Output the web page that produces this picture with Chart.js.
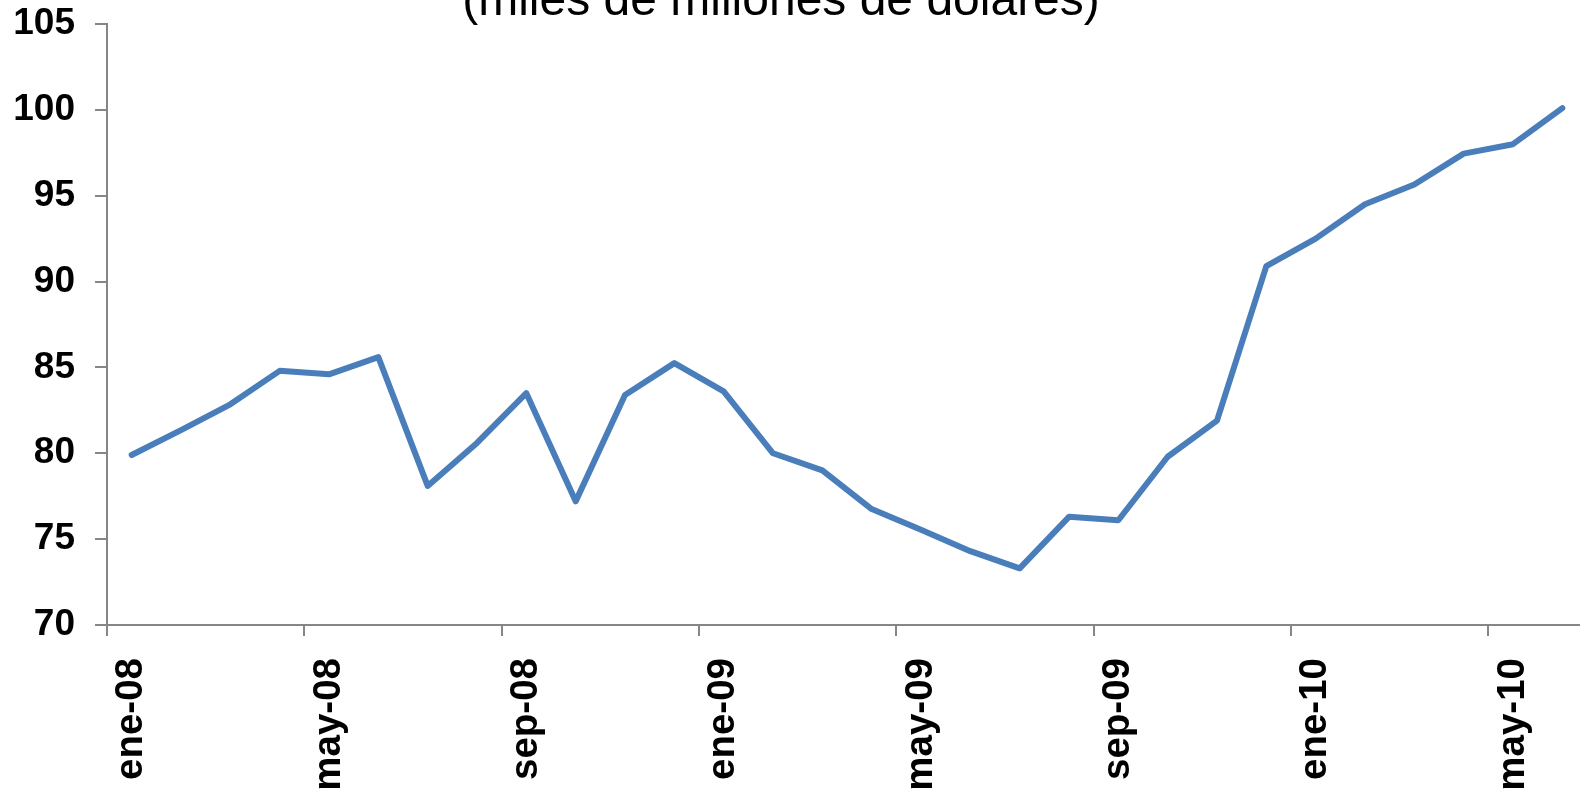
<!DOCTYPE html>
<html>
<head>
<meta charset="utf-8">
<script src="https://cdn.jsdelivr.net/npm/chart.js@4/dist/chart.umd.min.js"></script>
<style>
	html, body { margin:0; padding:0; background:#fff; overflow:hidden; width:1580px; height:793px; }
	#lineChart { display:block; }
</style>
</head>
<body>
<canvas id="lineChart" width="1600" height="793"></canvas>
<script>
var months = ["ene-08","feb-08","mar-08","abr-08","may-08","jun-08","jul-08","ago-08","sep-08","oct-08","nov-08","dic-08",
              "ene-09","feb-09","mar-09","abr-09","may-09","jun-09","jul-09","ago-09","sep-09","oct-09","nov-09","dic-09",
              "ene-10","feb-10","mar-10","abr-10","may-10","jun-10"];
var reserves = [79.9, 81.35, 82.85, 84.8, 84.6, 85.6, 78.1, 80.6, 83.5, 77.2, 83.4, 85.25,
                83.6, 80.0, 79.0, 76.75, 75.55, 74.3, 73.3, 76.3, 76.1, 79.8, 81.9, 90.9,
                92.5, 94.5, 95.65, 97.45, 98.0, 100.1];
var yMin = 70, yMax = 105, yStep = 5;
var labelEvery = 4;
var subtitle = "(miles de millones de dólares)";

var axisGray = "#868686";
var fontFamily = "'Liberation Sans', Arial, sans-serif";

// the title sits half off the top of the picture, so draw it by hand
var titlePlugin = {
	id: "cutTitle",
	afterDraw: function(chart){
		var ctx = chart.ctx;
		ctx.save();
		ctx.font = "48px " + fontFamily;
		ctx.fillStyle = "#000";
		ctx.textAlign = "center";
		ctx.textBaseline = "alphabetic";
		ctx.fillText(subtitle, 781, 15);
		ctx.restore();
	}
};

var ctx = document.getElementById("lineChart");
var myChart = new Chart(ctx, {
	type: 'line',
	data: {
		labels: months,
		datasets: [
		{
			label: "Reservas",
			data: reserves,
			borderColor: "#4a7ebb",
			backgroundColor: "#4a7ebb",
			borderWidth: 6,
			borderCapStyle: "round",
			borderJoinStyle: "round",
			pointRadius: 0,
			tension: 0,
			fill: false
		}
		]
	},
	options: {
		responsive: false,
		animation: false,
		layout: { padding: { top: 24, right: 13, left: 0, bottom: 0 } },
		plugins: {
			legend: { display: false },
			title: { display: false },
			tooltip: { enabled: false }
		},
		scales: {
			x: {
				offset: true,
				afterFit: function(scale){
					scale.height = 168;
					scale.paddingLeft = 0;
					scale.paddingRight = 0;
				},
				grid: {
					offset: true,
					drawOnChartArea: false,
					drawTicks: true,
					tickLength: 11,
					lineWidth: 2,
					tickColor: function(c){ return c.index % labelEvery === 0 ? axisGray : "rgba(0,0,0,0)"; },
					color: function(c){ return c.index % labelEvery === 0 ? axisGray : "rgba(0,0,0,0)"; }
				},
				border: { display: true, color: axisGray, width: 2 },
				ticks: {
					autoSkip: false,
					minRotation: 90,
					maxRotation: 90,
					padding: 22,
					color: "#000",
					font: { family: fontFamily, size: 38.5, weight: "bold" },
					callback: function(value, index){
						return index % labelEvery === 0 ? months[index] : "";
					}
				}
			},
			y: {
				min: yMin,
				max: yMax,
				afterFit: function(scale){
					scale.width = 107;
					scale.paddingTop = 0;
					scale.paddingBottom = 0;
				},
				grid: {
					drawOnChartArea: false,
					drawTicks: true,
					tickLength: 12,
					lineWidth: 2,
					color: axisGray,
					tickColor: axisGray
				},
				border: { display: true, color: axisGray, width: 2 },
				ticks: {
					stepSize: yStep,
					padding: 20,
					color: "#000",
					font: { family: fontFamily, size: 37, weight: "bold" }
				}
			}
		}
	},
	plugins: [titlePlugin]
});
</script>
</body>
</html>
